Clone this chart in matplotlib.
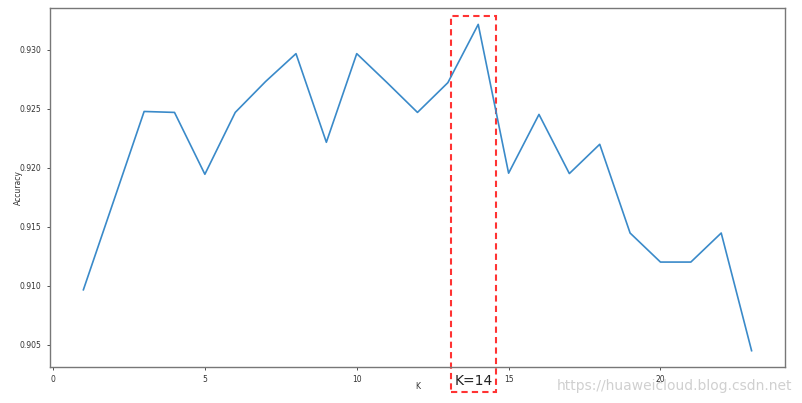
import matplotlib
matplotlib.use("Agg")
import matplotlib.pyplot as plt
from matplotlib.patches import Rectangle
import matplotlib.transforms as mtransforms

k_values = list(range(1, 24))
accuracy = [0.90965, 0.9172, 0.92476, 0.92468, 0.91944, 0.92468, 0.9273,
            0.92966, 0.92215, 0.92966, 0.9272, 0.92468, 0.9272, 0.93214,
            0.91953, 0.92451, 0.9195, 0.92198, 0.91446, 0.9120, 0.9120,
            0.91446, 0.90449]
best_k = 14


def main():
    fig = plt.figure(figsize=(8.02, 4.03), dpi=100)
    ax = fig.add_axes([0.0623, 0.0893, 0.9165, 0.8907])
    ax.plot(k_values, accuracy, color="#3a8ac9", linewidth=1.2)

    ax.set_xticks([0, 5, 10, 15, 20])
    ax.set_yticks([0.905, 0.910, 0.915, 0.920, 0.925, 0.930])
    ax.yaxis.set_major_formatter(matplotlib.ticker.FormatStrFormatter("%.3f"))
    ax.tick_params(labelsize=5.5, colors="#333333", length=2.5, width=0.6)
    for s in ax.spines.values():
        s.set_color("#777777")
        s.set_linewidth(1.0)
    ax.set_xlabel("K", fontsize=5.5, color="#333333", labelpad=-2)
    ax.set_ylabel("Accuracy", fontsize=5.5, color="#333333", labelpad=-2)

    # highlight box around best K
    trans = mtransforms.blended_transform_factory(ax.transData, ax.transAxes)
    box = Rectangle((best_k - 0.9, -0.07), 1.5, 1.048, transform=trans,
                    fill=False, edgecolor="#ff3333", linestyle=(0, (3, 2)),
                    linewidth=1.5, clip_on=False)
    ax.add_patch(box)
    ax.text(best_k - 0.15, -0.038, "K=14", transform=trans, ha="center",
            va="center", fontsize=10, color="#222222")

    fig.text(0.988, 0.043, "https://huaweicloud.blog.csdn.net", ha="right",
             va="center", fontsize=10, color="#d0d0d0")

    fig.savefig("out.png", dpi=100)


if __name__ == "__main__":
    main()
